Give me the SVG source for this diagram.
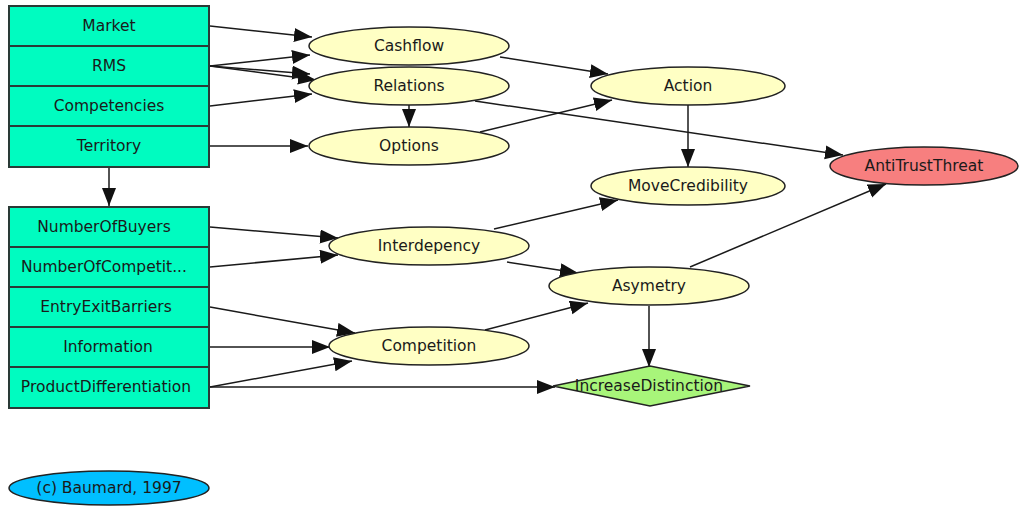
<svg xmlns="http://www.w3.org/2000/svg" width="1019" height="506" viewBox="0 0 1019 506">
<style>
.box{fill:#00fcc0;stroke:#2a3a36;stroke-width:2}
.ell{fill:#ffffc4;stroke:#222;stroke-width:1.5}
.t{font-family:"DejaVu Sans",sans-serif;font-size:15.5px;fill:#1a1a1a;text-anchor:middle;dominant-baseline:central}
.e{stroke:#1a1a1a;stroke-width:1.5;fill:none;marker-end:url(#ah)}
</style>
<defs>
<marker id="ah" markerUnits="userSpaceOnUse" markerWidth="20" markerHeight="16" refX="18" refY="7" orient="auto">
<path d="M0,0 L18,7 L0,14 Z" fill="#111"/>
</marker>
</defs>
<rect width="1019" height="506" fill="#fff"/>
<g id="connectors">
<line class="e" x1="210" y1="26" x2="312" y2="37"/>
<line class="e" x1="210" y1="66" x2="310" y2="55"/>
<line class="e" x1="210" y1="66" x2="310" y2="74"/>
<line class="e" x1="210" y1="66" x2="316" y2="80"/>
<line class="e" x1="210" y1="106" x2="312" y2="94"/>
<line class="e" x1="210" y1="146" x2="308" y2="146"/>
<line class="e" x1="409" y1="105" x2="409" y2="127"/>
<line class="e" x1="500" y1="57" x2="608" y2="74"/>
<line class="e" x1="480" y1="132" x2="612" y2="100"/>
<line class="e" x1="475" y1="101" x2="843" y2="155"/>
<line class="e" x1="688" y1="105" x2="688" y2="167"/>
<line class="e" x1="109" y1="167" x2="109" y2="206"/>
<line class="e" x1="210" y1="227" x2="338" y2="238"/>
<line class="e" x1="210" y1="267" x2="338" y2="255"/>
<line class="e" x1="210" y1="307" x2="355" y2="333"/>
<line class="e" x1="210" y1="347" x2="330" y2="347"/>
<line class="e" x1="210" y1="387" x2="352" y2="361"/>
<line class="e" x1="210" y1="387" x2="555" y2="387"/>
<line class="e" x1="494" y1="229" x2="618" y2="200"/>
<line class="e" x1="507" y1="262" x2="578" y2="273"/>
<line class="e" x1="485" y1="330" x2="588" y2="303"/>
<line class="e" x1="690" y1="267" x2="886" y2="184"/>
<line class="e" x1="649" y1="306" x2="649" y2="367"/>
</g>
<g id="group-top">
<rect class="box" x="9" y="6" width="200" height="161"/>
<line x1="9" y1="46" x2="209" y2="46" stroke="#2a3a36" stroke-width="2"/>
<line x1="9" y1="86" x2="209" y2="86" stroke="#2a3a36" stroke-width="2"/>
<line x1="9" y1="126" x2="209" y2="126" stroke="#2a3a36" stroke-width="2"/>
<g id="Market"><text class="t" x="109" y="26">Market</text></g>
<g id="RMS"><text class="t" x="109" y="66">RMS</text></g>
<g id="Competencies"><text class="t" x="109" y="106">Competencies</text></g>
<g id="Territory"><text class="t" x="109" y="146">Territory</text></g>
</g>
<g id="group-bottom">
<rect class="box" x="9" y="207" width="200" height="201"/>
<line x1="9" y1="247" x2="209" y2="247" stroke="#2a3a36" stroke-width="2"/>
<line x1="9" y1="287" x2="209" y2="287" stroke="#2a3a36" stroke-width="2"/>
<line x1="9" y1="327" x2="209" y2="327" stroke="#2a3a36" stroke-width="2"/>
<line x1="9" y1="367" x2="209" y2="367" stroke="#2a3a36" stroke-width="2"/>
<g id="NumberOfBuyers"><text class="t" x="104" y="227">NumberOfBuyers</text></g>
<g id="NumberOfCompetitors"><text class="t" x="104" y="267">NumberOfCompetit...</text></g>
<g id="EntryExitBarriers"><text class="t" x="106" y="307">EntryExitBarriers</text></g>
<g id="Information"><text class="t" x="108" y="347">Information</text></g>
<g id="ProductDifferentiation"><text class="t" x="106" y="387">ProductDifferentiation</text></g>
</g>
<g id="Cashflow"><ellipse class="ell" cx="409" cy="46" rx="100" ry="19"/><text class="t" x="409" y="46">Cashflow</text></g>
<g id="Relations"><ellipse class="ell" cx="409" cy="86" rx="100" ry="19"/><text class="t" x="409" y="86">Relations</text></g>
<g id="Options"><ellipse class="ell" cx="409" cy="146" rx="100" ry="19"/><text class="t" x="409" y="146">Options</text></g>
<g id="Action"><ellipse class="ell" cx="688" cy="86" rx="97" ry="19"/><text class="t" x="688" y="86">Action</text></g>
<g id="MoveCredibility"><ellipse class="ell" cx="688" cy="186" rx="97" ry="19"/><text class="t" x="688" y="186">MoveCredibility</text></g>
<g id="AntiTrustThreat"><ellipse cx="924" cy="166" rx="94" ry="19" fill="#f77f7f" stroke="#222" stroke-width="1.5"/><text class="t" x="924" y="166">AntiTrustThreat</text></g>
<g id="Interdepency"><ellipse class="ell" cx="429" cy="246" rx="100" ry="19"/><text class="t" x="429" y="246">Interdepency</text></g>
<g id="Asymetry"><ellipse class="ell" cx="649" cy="286" rx="100" ry="19"/><text class="t" x="649" y="286">Asymetry</text></g>
<g id="Competition"><ellipse class="ell" cx="429" cy="346" rx="100" ry="19"/><text class="t" x="429" y="346">Competition</text></g>
<g id="IncreaseDistinction"><polygon points="553,386 650,366 750,386 650,406" fill="#a8f57a" stroke="#222" stroke-width="1.5"/><text class="t" x="649" y="386">IncreaseDistinction</text></g>
<g id="Copyright"><ellipse cx="109" cy="488" rx="100" ry="17" fill="#00bfff" stroke="#222" stroke-width="1.5"/><text class="t" x="109" y="488">(c) Baumard, 1997</text></g>
</svg>
